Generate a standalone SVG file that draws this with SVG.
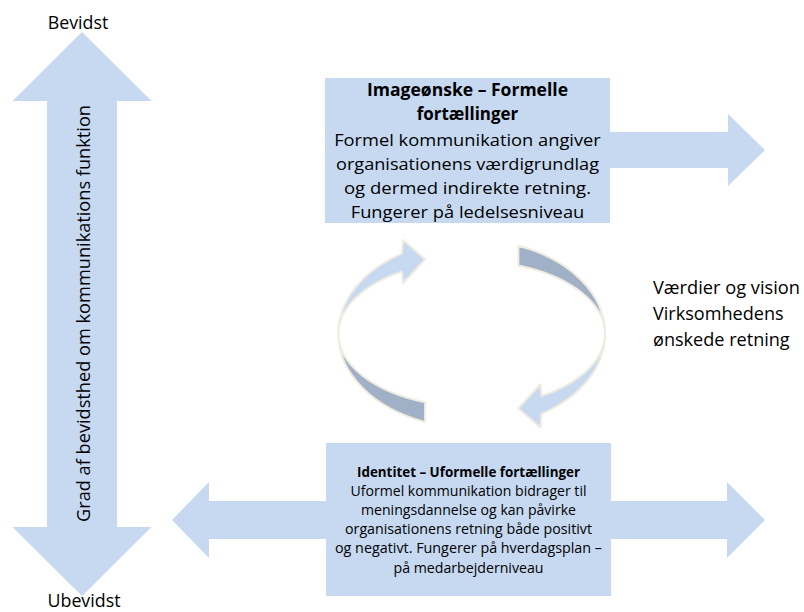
<svg xmlns="http://www.w3.org/2000/svg" width="804" height="612" viewBox="0 0 804 612">
<style>
.fill{fill:#c6d9f1;}
.dark{fill:#a0b0c7;}
.rib{stroke:#eeece1;stroke-width:2;stroke-linejoin:round;}
text{font-family:"Open Sans","Noto Sans","Liberation Sans",sans-serif;fill:#000;}
.lab{font-size:18.5px;}
.tb{font-size:17px;text-anchor:middle;}
.bb{font-size:14.3px;text-anchor:middle;}
.b{font-weight:bold;}
</style>
<rect width="804" height="612" fill="#ffffff"/>
<g id="axis">
<path class="fill" d="M82,32 L151.5,101 L117,101 L117,527 L151.5,527 L82,596 L12.5,527 L47,527 L47,101 L12.5,101 Z"/>
<text class="lab" transform="translate(90,313.5) rotate(-90)" text-anchor="middle" textLength="417" lengthAdjust="spacingAndGlyphs">Grad af bevidsthed om kommunikations funktion</text>
<text class="lab" x="78" y="29.3" text-anchor="middle" textLength="60.6" lengthAdjust="spacingAndGlyphs">Bevidst</text>
<text class="lab" x="84" y="607" text-anchor="middle" textLength="73" lengthAdjust="spacingAndGlyphs">Ubevidst</text>
</g>
<g id="connectors">
<path id="arrow-top" class="fill" d="M600,132 H728 V114 L765,150 L728,186 V168 H600 Z"/>
<path id="arrow-bottom" class="fill" d="M172,520 L209,482 V501 H727 V482 L765,520 L727,558 V539 H209 V558 Z"/>
<g id="cycle-left">
<path class="fill rib" d="M402,253.65 A133.4,94 0 0 0 338.3,333.8 A133.4,73 0 0 1 402,271.55 L403,283.3 L425,259.3 L403,240 Z"/>
<path class="dark rib" d="M338.3,333.8 A133.4,94 0 0 0 425,421.85 L425,402.18 A133.4,73 0 0 1 338.3,333.8 Z"/>
</g>
<g id="cycle-right" transform="rotate(180 471.7 333.8)">
<path class="fill rib" d="M402,253.65 A133.4,94 0 0 0 338.3,333.8 A133.4,73 0 0 1 402,271.55 L403,283.3 L425,259.3 L403,240 Z"/>
<path class="dark rib" d="M338.3,333.8 A133.4,94 0 0 0 425,421.85 L425,402.18 A133.4,73 0 0 1 338.3,333.8 Z"/>
</g>
</g>
<g id="node-image">
<rect class="fill" x="325" y="78" width="285" height="145"/>
<text class="tb b" x="467.5" y="96" textLength="201" lengthAdjust="spacingAndGlyphs">Imageønske – Formelle</text>
<text class="tb b" x="467.5" y="120" textLength="101.6" lengthAdjust="spacingAndGlyphs">fortællinger</text>
<text class="tb" x="467.5" y="145.5" textLength="266.7" lengthAdjust="spacingAndGlyphs">Formel kommunikation angiver</text>
<text class="tb" x="467.5" y="169.5" textLength="263" lengthAdjust="spacingAndGlyphs">organisationens værdigrundlag</text>
<text class="tb" x="467.5" y="193.5" textLength="247" lengthAdjust="spacingAndGlyphs">og dermed indirekte retning.</text>
<text class="tb" x="467.5" y="217.5" textLength="233.6" lengthAdjust="spacingAndGlyphs">Fungerer på ledelsesniveau</text>
</g>
<g id="node-identity">
<rect class="fill" x="326" y="443" width="285" height="153"/>
<text class="bb b" x="468.5" y="476.5" textLength="223" lengthAdjust="spacingAndGlyphs">Identitet – Uformelle fortællinger</text>
<text class="bb" x="468.5" y="495.7" textLength="236" lengthAdjust="spacingAndGlyphs">Uformel kommunikation bidrager til</text>
<text class="bb" x="468.5" y="514.9" textLength="215" lengthAdjust="spacingAndGlyphs">meningsdannelse og kan påvirke</text>
<text class="bb" x="468.5" y="534.1" textLength="247" lengthAdjust="spacingAndGlyphs">organisationens retning både positivt</text>
<text class="bb" x="468.5" y="553.3" textLength="267" lengthAdjust="spacingAndGlyphs">og negativt. Fungerer på hverdagsplan –</text>
<text class="bb" x="468.5" y="572.5" textLength="150" lengthAdjust="spacingAndGlyphs">på medarbejderniveau</text>
</g>
<g id="label-values">
<text class="lab" x="653" y="294" textLength="147" lengthAdjust="spacingAndGlyphs">Værdier og vision</text>
<text class="lab" x="653" y="320" textLength="130.7" lengthAdjust="spacingAndGlyphs">Virksomhedens</text>
<text class="lab" x="653" y="346" textLength="136.7" lengthAdjust="spacingAndGlyphs">ønskede retning</text>
</g>
</svg>
